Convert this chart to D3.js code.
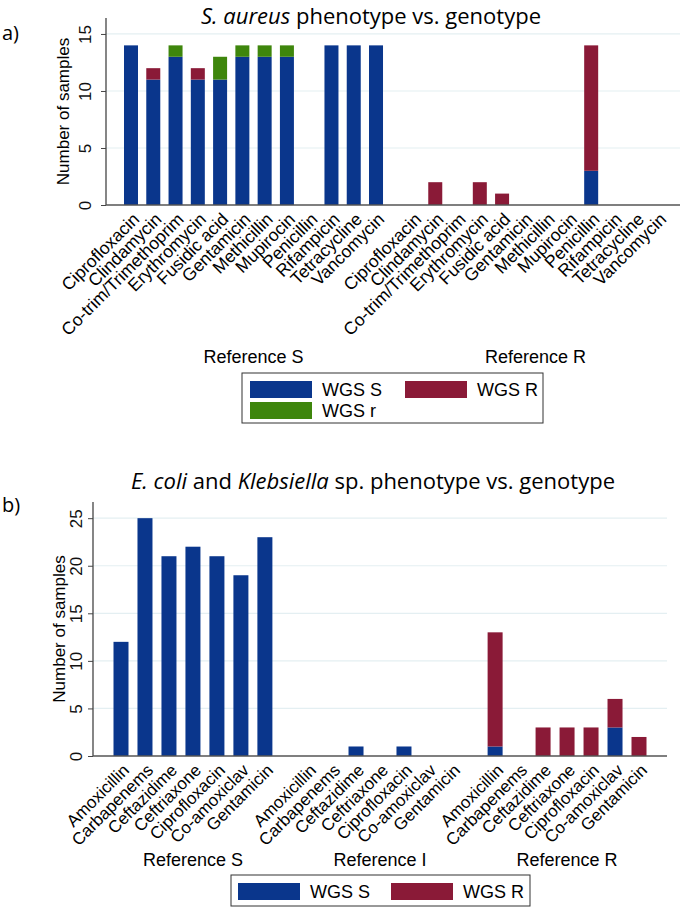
<!DOCTYPE html>
<html>
<head>
<meta charset="utf-8">
<script src="https://cdn.jsdelivr.net/npm/d3@7"></script>
<style>
  body { margin: 0; background: #fff; }
</style>
</head>
<body>
<script>
// ---- panel a : S. aureus ----
const drugsA = ["Ciprofloxacin","Clindamycin","Co-trim/Trimethoprim","Erythromycin","Fusidic acid",
  "Gentamicin","Methicillin","Mupirocin","Penicillin","Rifampicin","Tetracycline","Vancomycin"];
const groupsA = ["Reference S","Reference R"];
const aRefS_wgsS = [14,11,13,11,11,13,13,13,0,14,14,14];
const aRefS_wgsR = [0,1,0,1,0,0,0,0,0,0,0,0];
const aRefS_wgsr = [0,0,1,0,2,1,1,1,0,0,0,0];
const aRefR_wgsS = [0,0,0,0,0,0,0,0,3,0,0,0];
const aRefR_wgsR = [0,2,0,2,1,0,0,0,11,0,0,0];
const aRefR_wgsr = [0,0,0,0,0,0,0,0,0,0,0,0];
const ticksA = [0,5,10,15];

// ---- panel b : E. coli / Klebsiella ----
const drugsB = ["Amoxicillin","Carbapenems","Ceftazidime","Ceftriaxone","Ciprofloxacin","Co-amoxiclav","Gentamicin"];
const groupsB = ["Reference S","Reference I","Reference R"];
const bRefS_wgsS = [12,25,21,22,21,19,23];
const bRefS_wgsR = [0,0,0,0,0,0,0];
const bRefI_wgsS = [0,0,1,0,1,0,0];
const bRefI_wgsR = [0,0,0,0,0,0,0];
const bRefR_wgsS = [1,0,0,0,0,3,0];
const bRefR_wgsR = [12,0,3,3,3,3,2];
const ticksB = [0,5,10,15,20,25];

const colors = { S: "#0a368c", R: "#8a1a37", r: "#3e860c" };
const ARIAL = "'Liberation Sans', Arial, sans-serif";
const TITLEFONT = "'Open Sans', sans-serif";

const svg = d3.select("body").append("svg")
  .attr("width", 682).attr("height", 908);

function buildRows(groups, drugs, series, gap) {
  const rows = [];
  groups.forEach((g, gi) => {
    drugs.forEach((d, di) => {
      rows.push({
        group: g, drug: d,
        pos: gi * (drugs.length - 1 + gap) + di,
        S: series[gi].S[di], R: series[gi].R[di], r: series[gi].r ? series[gi].r[di] : 0
      });
    });
  });
  return rows;
}

function drawPanel(p) {
  const g = svg.append("g");
  const rows = p.rows;
  const maxPos = d3.max(rows, d => d.pos);

  const x = d3.scaleLinear().domain([0, maxPos]).range([p.firstX, p.lastX]);
  const y = d3.scaleLinear().domain([0, p.yMax]).range([p.y0, p.yTop]);

  // grid
  g.selectAll(".grid").data(p.ticks.filter(t => t > 0)).enter()
    .append("line")
    .attr("x1", p.axisX).attr("x2", p.right)
    .attr("y1", d => y(d)).attr("y2", d => y(d))
    .attr("stroke", "#e4eff2").attr("stroke-width", 1.2);

  // bars
  const stack = d3.stack().keys(["S","R","r"])(rows);
  g.selectAll(".layer").data(stack).enter()
    .append("g")
    .attr("fill", d => colors[d.key])
    .selectAll("rect").data(d => d.filter(v => v[1] > v[0])).enter()
    .append("rect")
    .attr("x", d => x(d.data.pos) - p.barW / 2)
    .attr("width", p.barW)
    .attr("y", d => y(d[1]))
    .attr("height", d => y(d[0]) - y(d[1]));

  // y axis
  const yAxis = d3.axisLeft(y).tickValues(p.ticks).tickSize(5).tickFormat(d3.format("d"));
  const ya = g.append("g").attr("transform", "translate(" + p.axisX + ",0)").call(yAxis);
  ya.select(".domain").remove();
  ya.selectAll("line").attr("stroke", "#444");
  ya.selectAll("text")
    .attr("transform", "rotate(-90)")
    .attr("x", 0).attr("y", -p.tickLabelOff).attr("dy", 0)
    .attr("text-anchor", "middle")
    .style("font-size", "17px").style("font-family", ARIAL).attr("fill", "#111");
  g.append("line")
    .attr("x1", p.axisX).attr("x2", p.axisX).attr("y1", p.yAxisTop).attr("y2", p.y0)
    .attr("stroke", "#444").attr("stroke-width", 1.3);

  // x axis line
  g.append("line")
    .attr("x1", p.axisX).attr("x2", p.right).attr("y1", p.y0).attr("y2", p.y0)
    .attr("stroke", "#555").attr("stroke-width", 1.3);

  g.append("text")
    .attr("transform", "translate(" + (p.axisX - p.yTitleOff) + "," + ((p.yAxisTop + p.y0) / 2) + ") rotate(-90)")
    .attr("text-anchor", "middle")
    .style("font-family", ARIAL).style("font-size", "17px")
    .text("Number of samples");

  // drug labels
  g.selectAll(".xl").data(rows).enter()
    .append("text")
    .attr("transform", d => "translate(" + (x(d.pos) + 5) + "," + (p.y0 + 11) + ") rotate(-45)")
    .attr("text-anchor", "end")
    .attr("dy", "0.35em")
    .style("font-family", ARIAL).style("font-size", p.labelSize)
    .text(d => d.drug);

  // group labels
  p.groups.forEach(gr => {
    const ps = rows.filter(d => d.group === gr).map(d => x(d.pos));
    g.append("text")
      .attr("x", (d3.min(ps) + d3.max(ps)) / 2).attr("y", p.groupY)
      .attr("text-anchor", "middle")
      .style("font-family", ARIAL).style("font-size", "18px")
      .text(gr);
  });

  // title + panel letter
  const t = g.append("text")
    .attr("x", p.titleX).attr("y", p.titleY)
    .attr("text-anchor", "middle")
    .style("font-family", TITLEFONT).style("font-size", "22px");
  p.title.forEach(s => t.append("tspan").style("font-style", s[1] ? "italic" : "normal").text(s[0]));
  g.append("text")
    .attr("x", 2).attr("y", p.letterY)
    .style("font-family", TITLEFONT).style("font-size", "20px").text(p.letter);

  // legend
  const lg = g.append("g");
  lg.append("rect")
    .attr("x", p.legend.x).attr("y", p.legend.y).attr("width", p.legend.w).attr("height", p.legend.h)
    .attr("fill", "none").attr("stroke", "#333").attr("stroke-width", 1);
  p.legend.items.forEach(it => {
    lg.append("rect").attr("x", it.x).attr("y", it.y).attr("width", 62).attr("height", 17)
      .attr("fill", colors[it.key]);
    lg.append("text").attr("x", it.x + 72).attr("y", it.y + 15)
      .style("font-family", ARIAL).style("font-size", "18px").text(it.label);
  });
}

drawPanel({
  rows: buildRows(groupsA, drugsA, [
    { S: aRefS_wgsS, R: aRefS_wgsR, r: aRefS_wgsr },
    { S: aRefR_wgsS, R: aRefR_wgsR, r: aRefR_wgsr }], 1.66),
  groups: groupsA, ticks: ticksA, yMax: 16.4,
  firstX: 131, lastX: 658, axisX: 106, right: 680,
  y0: 205, yTop: 18, yAxisTop: 18, barW: 14,
  tickLabelOff: 15, yTitleOff: 37, labelSize: "17.5px", groupY: 363,
  title: [["S. aureus", true], [" phenotype vs. genotype", false]],
  titleX: 371, titleY: 24, letter: "a)", letterY: 40,
  legend: { x: 242, y: 373, w: 301, h: 50, items: [
    { key: "S", label: "WGS S", x: 250, y: 381 },
    { key: "R", label: "WGS R", x: 405, y: 381 },
    { key: "r", label: "WGS r", x: 250, y: 402 }] }
});

drawPanel({
  rows: buildRows(groupsB, drugsB, [
    { S: bRefS_wgsS, R: bRefS_wgsR },
    { S: bRefI_wgsS, R: bRefI_wgsR },
    { S: bRefR_wgsS, R: bRefR_wgsR }], 1.8),
  groups: groupsB, ticks: ticksB, yMax: 26.7,
  firstX: 121, lastX: 639, axisX: 93, right: 667,
  y0: 756, yTop: 502, yAxisTop: 502, barW: 15,
  tickLabelOff: 11, yTitleOff: 28, labelSize: "17px", groupY: 866,
  title: [["E. coli", true], [" and ", false], ["Klebsiella", true], [" sp. phenotype vs. genotype", false]],
  titleX: 373, titleY: 489, letter: "b)", letterY: 512,
  legend: { x: 231, y: 875, w: 299, h: 31, items: [
    { key: "S", label: "WGS S", x: 238, y: 883 },
    { key: "R", label: "WGS R", x: 391, y: 883 }] }
});
</script>
</body>
</html>
